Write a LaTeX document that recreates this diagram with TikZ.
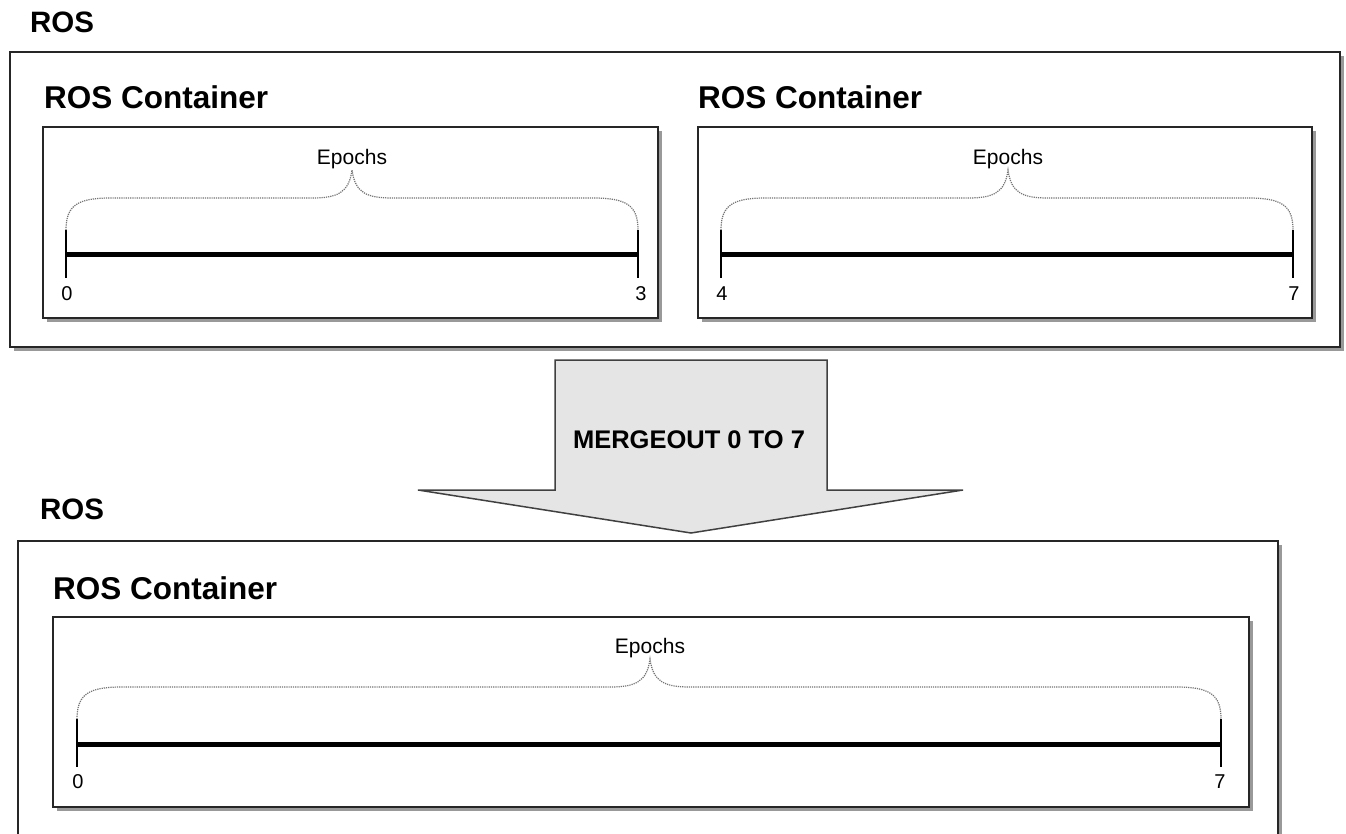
\documentclass[tikz,border=0pt]{standalone}
\usepackage{fontspec}
\setmainfont{Liberation Sans}
\usetikzlibrary{positioning}

% curly brace over a timeline: left x, tip x, right x, timeline y
\newcommand{\epochbrace}[4]{%
  \draw[brace line] (#1,#4-25) .. controls (#1,#4-50) and (#1+12,#4-57) .. (#1+45,#4-57)
    -- (#2-40,#4-57) .. controls (#2-15,#4-57) and (#2-3,#4-62) .. (#2,#4-85)
    .. controls (#2+3,#4-62) and (#2+15,#4-57) .. (#2+40,#4-57)
    -- (#3-45,#4-57) .. controls (#3-12,#4-57) and (#3,#4-50) .. (#3,#4-25);}

\begin{document}
\begin{tikzpicture}[x=1pt, y=-1pt,
  frame/.style={draw=black!85, line width=2pt, fill=white},
  boxshadow/.style={fill=black!40},
  title/.style={anchor=base west, inner sep=0pt, font=\bfseries\fontsize{29.5}{34}\selectfont},
  subtitle/.style={anchor=base west, inner sep=0pt, font=\bfseries\fontsize{31.5}{38}\selectfont},
  epochs/.style={anchor=base, inner sep=0pt, font=\fontsize{21}{25}\selectfont},
  ticklabel/.style={anchor=base, inner sep=0pt, font=\fontsize{20}{24}\selectfont},
  timeline/.style={line width=5pt},
  tickline/.style={line width=1.5pt},
  brace line/.style={draw=black!55, line width=1.2pt, densely dotted},
  mergearrow/.style={draw=black!75, line width=1.5pt, fill=black!10, line join=miter}]

  \useasboundingbox (0,0) rectangle (1346,834);
  \clip (0,0) rectangle (1346,834);

  % -- Upper ROS --
  \node[title] (rosA) at (30,33) {ROS};
  \fill[boxshadow] (14,56) rectangle (1344,351);
  \draw[frame] (10,52) rectangle (1340,347);

  % -- First container (0..3) --
  \node[subtitle] (contA) at (44,109) {ROS Container};
  \fill[boxshadow] (47,131) rectangle (662,322);
  \draw[frame] (43,127) rectangle (658,318);
  \coordinate (a0) at (66,255);
  \coordinate (a3) at (638,255);
  \draw[timeline] (a0) -- (a3);
  \draw[tickline] (a0) ++(0,-25) -- ++(0,48);
  \draw[tickline] (a3) ++(0,-25) -- ++(0,48);
  \epochbrace{66}{352}{638}{255}
  \node[epochs] (epA) at (352,165) {Epochs};
  \node[ticklabel] (labA0) at (67,300) {0};
  \node[ticklabel] (labA3) at (641,300) {3};

  % -- Second container (4..7) --
  \node[subtitle] (contB) at (698,109) {ROS Container};
  \fill[boxshadow] (702,131) rectangle (1316,322);
  \draw[frame] (698,127) rectangle (1312,318);
  \coordinate (b4) at (721,255);
  \coordinate (b7) at (1293,255);
  \draw[timeline] (b4) -- (b7);
  \draw[tickline] (b4) ++(0,-25) -- ++(0,48);
  \draw[tickline] (b7) ++(0,-25) -- ++(0,48);
  \epochbrace{721}{1008}{1293}{255}
  \node[epochs] (epB) at (1008,165) {Epochs};
  \node[ticklabel] (labB4) at (722,300) {4};
  \node[ticklabel] (labB7) at (1294,300) {7};

  % -- Mergeout arrow --
  \draw[mergearrow] (555,360) -- (827,360) -- (827,490) -- (963,490)
    -- (691,533) -- (418,490) -- (555,490) -- cycle;
  \node[anchor=base, inner sep=0pt, font=\bfseries\fontsize{25.5}{30}\selectfont]
    (merge) at (689,448) {MERGEOUT 0 TO 7};

  % -- Lower ROS --
  \node[title] (rosB) at (40,519) {ROS};
  \fill[boxshadow] (22,545) rectangle (1282,870);
  \draw[frame] (18,541) rectangle (1278,866);

  % -- Merged container (0..7) --
  \node[subtitle] (contC) at (53,599) {ROS Container};
  \fill[boxshadow] (57,621) rectangle (1253,811);
  \draw[frame] (53,617) rectangle (1249,807);
  \coordinate (c0) at (77,744);
  \coordinate (c7) at (1221,744);
  \draw[timeline] (c0) -- (c7);
  \draw[tickline] (c0) ++(0,-25) -- ++(0,48);
  \draw[tickline] (c7) ++(0,-25) -- ++(0,48);
  \epochbrace{77}{650}{1221}{744}
  \node[epochs] (epC) at (650,653) {Epochs};
  \node[ticklabel] (labC0) at (78,788) {0};
  \node[ticklabel] (labC7) at (1220,788) {7};

\end{tikzpicture}
\end{document}
